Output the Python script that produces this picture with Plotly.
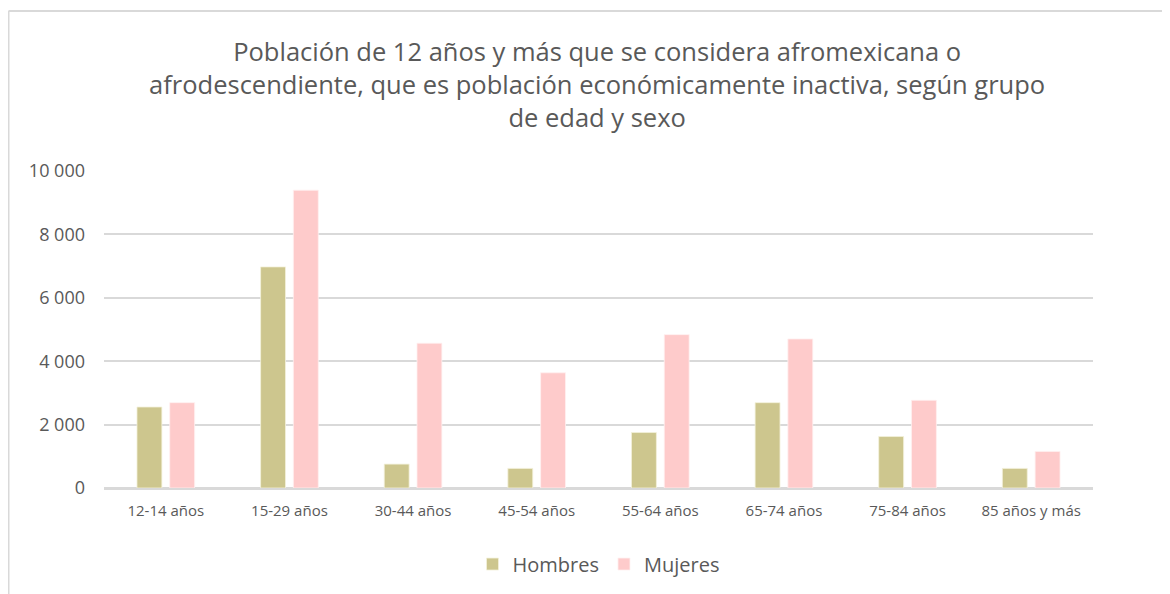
import plotly.graph_objects as go

TEXT_COLOR = "#595959"
GRID_COLOR = "#d9d9d9"
FONT = "Open Sans"

age_groups = [
    "12-14 años", "15-29 años", "30-44 años", "45-54 años",
    "55-64 años", "65-74 años", "75-84 años", "85 años y más",
]
hombres = [2555, 6975, 754, 618, 1749, 2692, 1623, 618]
mujeres = [2692, 9394, 4566, 3634, 4838, 4702, 2765, 1152]

title_text = (
    "Población de 12 años y más que se considera afromexicana o<br>"
    "afrodescendiente, que es población económicamente inactiva, según grupo<br>"
    "de edad y sexo"
)

fig = go.Figure()
fig.add_trace(go.Bar(x=age_groups, y=hombres, name="Hombres",
                     marker=dict(color="#cdc68e", line=dict(color="#f4f1dc", width=0.8))))
fig.add_trace(go.Bar(x=age_groups, y=mujeres, name="Mujeres",
                     marker=dict(color="#fecbcb", line=dict(color="#fff0f0", width=0.8))))

# the page body adds 8px, so the figure is a bit smaller than the window
W, H = 1162, 586
L, R, T, B = 96, 77, 163, 105
pw, ph = W - L - R, H - T - B

fig.update_layout(
    width=W,
    height=H,
    margin=dict(l=L, r=R, t=T, b=B, pad=0),
    plot_bgcolor="white",
    paper_bgcolor="white",
    separators=". ",
    font=dict(family=FONT, color=TEXT_COLOR),
    bargap=0.47,
    bargroupgap=0.24,
    title=dict(
        text=title_text,
        font=dict(size=25.5, color=TEXT_COLOR, family=FONT),
        x=0.507,
        xanchor="center",
        y=0.91,
        yanchor="middle",
    ),
    legend=dict(
        orientation="h",
        x=0.5,
        xanchor="center",
        y=-0.236,
        yanchor="middle",
        font=dict(size=20, color=TEXT_COLOR),
    ),
    shapes=[
        dict(type="line", xref="paper", yref="paper",
             x0=(0.5 - L) / pw, x1=(W + 5 - L) / pw,
             y0=(H - B - 2.5) / ph, y1=(H - B - 2.5) / ph,
             line=dict(color=GRID_COLOR, width=2)),
        dict(type="line", xref="paper", yref="paper",
             x0=(0.5 - L) / pw, x1=(0.5 - L) / pw,
             y0=(H - B - 2.5) / ph, y1=-(B + 5) / ph,
             line=dict(color=GRID_COLOR, width=2)),
    ],
)

fig.update_yaxes(
    range=[0, 10000],
    dtick=2000,
    tickformat=",d",
    showgrid=True,
    gridcolor=GRID_COLOR,
    gridwidth=1.5,
    zeroline=True,
    zerolinecolor=GRID_COLOR,
    zerolinewidth=1.5,
    showline=False,
    ticks="",
    ticklabelstandoff=18,
    tickfont=dict(size=18, color=TEXT_COLOR),
)
fig.update_xaxes(
    showgrid=False,
    showline=True,
    linecolor=GRID_COLOR,
    linewidth=1.5,
    ticks="",
    ticklabelstandoff=8,
    tickfont=dict(size=15, color=TEXT_COLOR),
)

fig.write_html("out.html")
